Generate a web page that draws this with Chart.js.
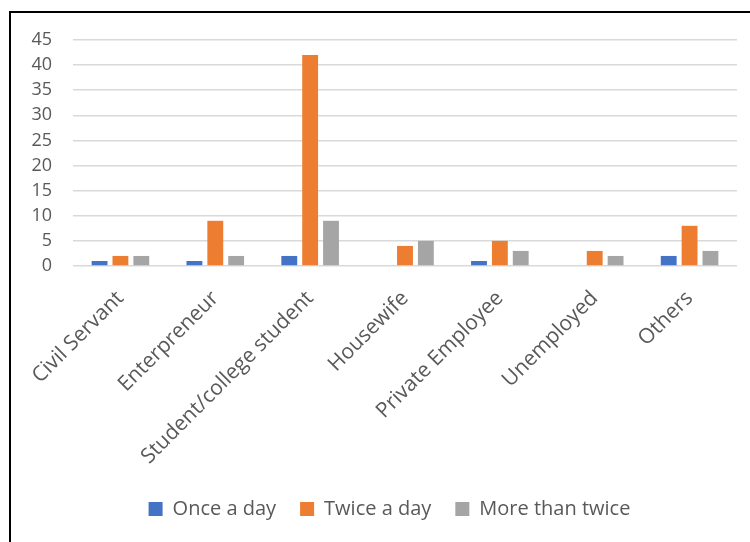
<!DOCTYPE html>
<html>
<head>
<meta charset="utf-8">
<script src="https://cdn.jsdelivr.net/npm/chart.js@4"></script>
<style>
  body { margin: 0; background: #fff; }
  #wrap { position: relative; width: 750px; height: 542px; overflow: hidden; }
  #frame { position: absolute; left: 9px; top: 11px; width: 800px; height: 600px;
           border-left: 2px solid #000; border-top: 2px solid #000; pointer-events: none; }
  canvas { position: absolute; left: 0; top: 0; }
</style>
</head>
<body>
<div id="wrap">
  <canvas id="chart" width="750" height="542"></canvas>
  <div id="frame"></div>
</div>
<script>
const categories = ["Civil Servant", "Enterpreneur", "Student/college student", "Housewife",
                    "Private Employee", "Unemployed", "Others"];
const onceADay = [1, 1, 2, 0, 1, 0, 2];
const twiceADay = [2, 9, 42, 4, 5, 3, 8];
const moreThanTwice = [2, 2, 9, 5, 3, 2, 3];

const font = "'Open Sans', sans-serif";
const textColor = "#595959";

// nudge the legend right so it sits under the middle of the plot
const legendShift = {
    id: "legendShift",
    afterLayout(chart) {
        chart.legend.left += 21;
        chart.legend.right += 21;
    }
};

new Chart(document.getElementById("chart"), {
    type: "bar",
    data: {
        labels: categories,
        datasets: [
            { label: "Once a day", data: onceADay, backgroundColor: "#4472C4" },
            { label: "Twice a day", data: twiceADay, backgroundColor: "#ED7D31" },
            { label: "More than twice", data: moreThanTwice, backgroundColor: "#A5A5A5" }
        ]
    },
    options: {
        responsive: false,
        animation: false,
        categoryPercentage: 0.66,
        barPercentage: 0.76,
        layout: { padding: { left: 0, right: 13, top: 40, bottom: 13 } },
        plugins: {
            tooltip: { enabled: false },
            legend: {
                position: "bottom",
                labels: {
                    color: textColor,
                    font: { family: font, size: 20 },
                    boxWidth: 14,
                    boxHeight: 14,
                    padding: 24
                }
            }
        },
        scales: {
            x: {
                grid: { display: false },
                border: { display: false },
                ticks: {
                    color: textColor,
                    font: { family: font, size: 21 },
                    minRotation: 45,
                    maxRotation: 45,
                    padding: 12
                },
                afterFit: scale => { scale.height = 209; }
            },
            y: {
                min: 0,
                max: 45,
                border: { display: false },
                grid: { color: "#D9D9D9", lineWidth: 1.5, drawTicks: false },
                ticks: {
                    stepSize: 5,
                    autoSkip: false,
                    color: textColor,
                    font: { family: font, size: 18 },
                    padding: 21
                },
                afterFit: scale => { scale.width = 73; }
            }
        }
    },
    plugins: [legendShift]
});
</script>
</body>
</html>
